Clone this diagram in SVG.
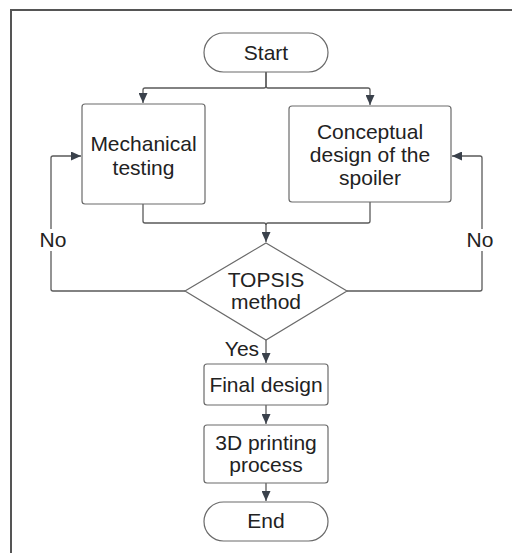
<svg xmlns="http://www.w3.org/2000/svg" width="512" height="553" viewBox="0 0 512 553">
<defs>
<marker id="arr" viewBox="0 0 10 10" refX="10" refY="5" markerWidth="10" markerHeight="9" markerUnits="userSpaceOnUse" orient="auto" preserveAspectRatio="none">
<path d="M0,0 L10,5 L0,10 Z" fill="#3a414b"/>
</marker>
<style>
.n{fill:#fff;stroke:#6a6a6a;stroke-width:1.2}
.t{font-family:"Liberation Sans",Arial,sans-serif;font-size:21px;fill:#222;text-anchor:middle}
.c{fill:none;stroke:#5a5a5a;stroke-width:1.3}
</style>
</defs>
<rect width="512" height="553" fill="#fff"/>
<path d="M11,553 V10 H512" fill="none" stroke="#555" stroke-width="2"/>
<g id="connectors">
<path class="c" d="M266,72 V86 Q266,88 264,88 H145 Q143,88 143,90 V103" marker-end="url(#arr)"/>
<path class="c" d="M266,72 V86 Q266,88 268,88 H368 Q370,88 370,90 V105" marker-end="url(#arr)"/>
<path class="c" d="M143,204 V221 Q143,223 145,223 H264 Q266,223 266,225 V242" marker-end="url(#arr)"/>
<path class="c" d="M370,202 V221 Q370,223 368,223 H268 Q266,223 266,225"/>
<path class="c" d="M185,291 H53 Q51,291 51,289 V158 Q51,156 53,156 H81" marker-end="url(#arr)"/>
<path class="c" d="M347,291 H480 Q482,291 482,289 V158 Q482,156 480,156 H452" marker-end="url(#arr)"/>
<path class="c" d="M266,340 V363" marker-end="url(#arr)"/>
<path class="c" d="M266,405 V424" marker-end="url(#arr)"/>
<path class="c" d="M266,483 V501" marker-end="url(#arr)"/>
<rect x="37" y="229" width="32" height="22" fill="#fff"/>
<rect x="464" y="229" width="32" height="22" fill="#fff"/>
<text class="t" x="53" y="247">No</text>
<text class="t" x="480" y="247">No</text>
<text class="t" x="242" y="356">Yes</text>
</g>
<g id="start">
<rect class="n" x="204" y="33" width="124" height="39" rx="19.5"/>
<text class="t" x="266" y="60">Start</text>
</g>
<g id="mechanical">
<rect class="n" x="82" y="104" width="123" height="100" rx="3"/>
<text class="t" x="143.5" y="151">Mechanical</text>
<text class="t" x="143.5" y="175">testing</text>
</g>
<g id="conceptual">
<rect class="n" x="289" y="106" width="162" height="96" rx="3"/>
<text class="t" x="370" y="139">Conceptual</text>
<text class="t" x="370" y="162">design of the</text>
<text class="t" x="370" y="185">spoiler</text>
</g>
<g id="topsis">
<path class="n" d="M266,243 L347,291 L266,340 L185,291 Z"/>
<text class="t" x="266" y="287">TOPSIS</text>
<text class="t" x="266" y="309">method</text>
</g>
<g id="final">
<rect class="n" x="204" y="364" width="124" height="41" rx="3"/>
<text class="t" x="266" y="392">Final design</text>
</g>
<g id="printing">
<rect class="n" x="204" y="425" width="124" height="58" rx="3"/>
<text class="t" x="266" y="450">3D printing</text>
<text class="t" x="266" y="472">process</text>
</g>
<g id="end">
<rect class="n" x="204" y="502" width="124" height="39" rx="19.5"/>
<text class="t" x="266" y="528">End</text>
</g>
</svg>
